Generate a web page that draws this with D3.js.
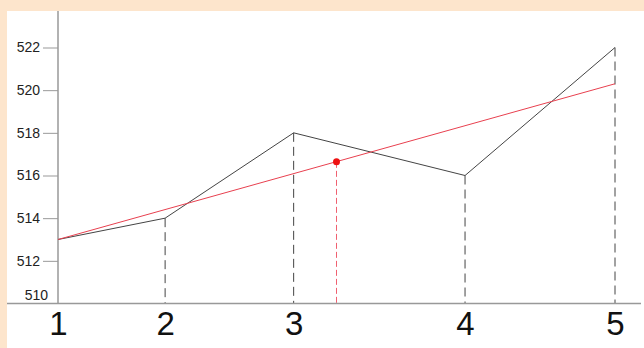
<!DOCTYPE html>
<html><head><meta charset="utf-8">
<script src="https://cdn.jsdelivr.net/npm/d3@7"></script>
<style>html,body{margin:0;padding:0;background:#fde5cc;}svg{display:block;}</style>
</head><body>
<svg id="chart" width="644" height="348"></svg>
<script>
// data
const xValues = [1, 2, 3.2, 4.8, 6.2];
const xTickLabels = ["1", "2", "3", "4", "5"];
const seriesValues = [513, 514, 518, 516, 522];
const trendX = [1, 6.2];
const trendValues = [513, 520.3];
const meanPoint = [3.6, 516.64];
const yTicks = [510, 512, 514, 516, 518, 520, 522];

const W = 644, H = 348;
const svg = d3.select("#chart");
svg.append("rect").attr("x", 7).attr("y", 11).attr("width", W - 7).attr("height", H - 11).attr("fill", "#ffffff");

const x = d3.scaleLinear().domain([1, 6.2]).range([58, 615]);
const y = d3.scaleLinear().domain([510, 522]).range([303.5, 47.5]);
const axisY0 = y(510);
const font = "Arial, 'Liberation Sans', sans-serif";

// dashed black verticals
svg.append("g").selectAll("line").data(xValues.slice(1)).join("line")
  .attr("x1", d => x(d)).attr("x2", d => x(d))
  .attr("y1", (d, i) => y(seriesValues[i + 1])).attr("y2", axisY0)
  .attr("stroke", "#444").attr("stroke-width", 1).attr("stroke-dasharray", "9,5");

// red dashed vertical
svg.append("line").attr("x1", x(meanPoint[0])).attr("x2", x(meanPoint[0]))
  .attr("y1", y(meanPoint[1])).attr("y2", axisY0)
  .attr("stroke", "#f06070").attr("stroke-width", 1).attr("stroke-dasharray", "6,3");

// axes
const yAxis = d3.axisLeft(y).tickValues(yTicks.slice(1)).tickSize(15).tickPadding(3).tickFormat(d3.format("d"));
const gy = svg.append("g").attr("transform", `translate(${x(1)},0)`).call(yAxis);
gy.select(".domain").remove();
gy.selectAll(".tick line").attr("stroke", "#999").attr("stroke-width", 1);
gy.selectAll(".tick text").attr("fill", "#222").style("font-family", font).style("font-size", "14px");
svg.append("line").attr("x1", x(1)).attr("x2", x(1)).attr("y1", 11).attr("y2", axisY0).attr("stroke", "#999").attr("stroke-width", 1.5);
svg.append("text").attr("x", 48).attr("y", axisY0 - 4).attr("text-anchor", "end")
  .attr("fill", "#222").style("font-family", font).style("font-size", "14px").text(yTicks[0]);

svg.append("line").attr("x1", 7).attr("x2", 641).attr("y1", axisY0).attr("y2", axisY0).attr("stroke", "#999").attr("stroke-width", 1.5);

const xAxis = d3.axisBottom(x).tickValues(xValues).tickSize(0).tickPadding(8).tickFormat((d, i) => xTickLabels[i]);
const gx = svg.append("g").attr("transform", `translate(0,${axisY0})`).call(xAxis);
gx.select(".domain").remove();
gx.selectAll(".tick text").attr("fill", "#111").style("font-family", font).style("font-size", "33px");

// data line
const line = d3.line().x(d => x(d[0])).y(d => y(d[1]));
svg.append("path").datum(xValues.map((v, i) => [v, seriesValues[i]]))
  .attr("d", line).attr("fill", "none").attr("stroke", "#444").attr("stroke-width", 1);

// trend line
svg.append("path").datum(trendX.map((v, i) => [v, trendValues[i]]))
  .attr("d", line).attr("fill", "none").attr("stroke", "#e8404f").attr("stroke-width", 1);

// mean point
svg.append("circle").attr("cx", x(meanPoint[0])).attr("cy", y(meanPoint[1])).attr("r", 3.5).attr("fill", "#ee1111");
</script>
</body></html>
